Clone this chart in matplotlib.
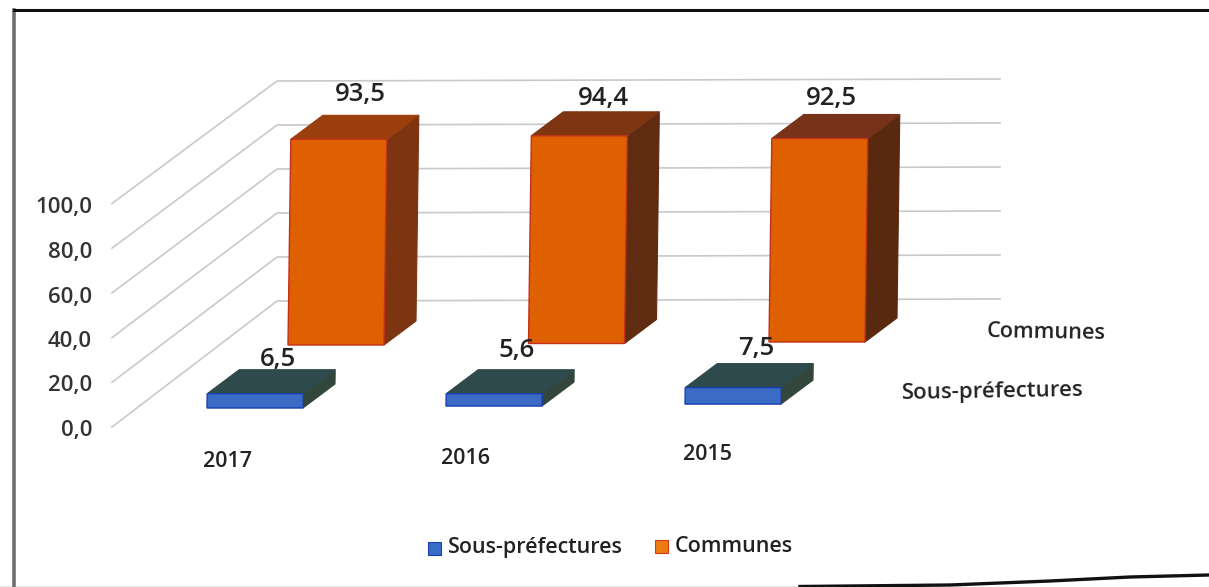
import matplotlib
matplotlib.use("Agg")
import matplotlib.pyplot as plt
from matplotlib.patches import Polygon, Rectangle

plt.rcParams['font.family'] = ['Open Sans', 'DejaVu Sans']

# data
years = ["2017", "2016", "2015"]
sous_prefectures = [6.5, 5.6, 7.5]
communes = [93.5, 94.4, 92.5]
y_ticks = [0, 20, 40, 60, 80, 100]
y_tick_labels = ["0,0", "20,0", "40,0", "60,0", "80,0", "100,0"]
series_names = ["Sous-préfectures", "Communes"]

# layout of the fake 3d box, in pixels of the scan
PX_PER_UNIT = 2.2
BAR_W = 96
DEPTH = (32, -24)
LEAN = 0.03
ROW_X = {"sous": 207, "comm": 288}
ROW_Y = {"sous": 408, "comm": 345}
STEP_X = 240.5
TILT = 1.5

fig = plt.figure(figsize=(12.09, 5.87), dpi=100)
ax = fig.add_axes([0, 0, 1, 1])
ax.set_xlim(0, 1209)
ax.set_ylim(587, 0)
ax.axis("off")

# scan border
ax.plot([14, 14], [10, 587], color="#6e6e6e", lw=2.6)
ax.plot([14, 1209], [10, 10], color="#111111", lw=2.2)
ax.plot([0, 600, 800], [586.5, 586.5, 586.5], color="#8a8a70", lw=1.0)
ax.plot([800, 950, 1050, 1130, 1209], [586.5, 585, 581, 577, 575], color="#111111", lw=2.4)

# grid walls
for v in y_ticks:
    y_front = 427 - 2.235 * v
    y_back = 301 - 2.2 * v
    ax.plot([112, 277, 1000], [y_front, y_back, y_back - 2], color="#c9c9c9", lw=1.2, zorder=1)


def box(x0, y0, value, front, top, side, edge):
    h = value * PX_PER_UNIT
    lean = value * LEAN
    dx, dy = DEPTH
    fl, fr = x0, x0 + BAR_W
    tl, tr = x0 + lean, x0 + BAR_W + lean
    ty = y0 - h
    ax.add_patch(Polygon([(tr, ty), (tr + dx, ty + dy), (fr + dx, y0 + dy), (fr, y0)],
                         facecolor=side, edgecolor=side, lw=0.8, zorder=3))
    ax.add_patch(Polygon([(tl, ty), (tl + dx, ty + dy), (tr + dx, ty + dy), (tr, ty)],
                         facecolor=top, edgecolor=top, lw=0.8, zorder=3))
    ax.add_patch(Polygon([(fl, y0), (tl, ty), (tr, ty), (fr, y0)],
                         facecolor=front, edgecolor=edge, lw=1.0, zorder=4))
    return ty


comm_sides = ["#7d3410", "#5f2c12", "#58290f"]
comm_tops = ["#9a3f0c", "#7d3512", "#76331a"]
comm_label_dx = [72, 75, 62]
comm_label_dy = [-45, -37, -40]
sous_label_dy = [-34, -43, -39]
for i, year in enumerate(years):
    x_c = ROW_X["comm"] + i * STEP_X
    y_c = ROW_Y["comm"] - i * TILT
    ty = box(x_c, y_c, communes[i], "#de6000", comm_tops[i], comm_sides[i], "#c4301a")
    ax.text(x_c + comm_label_dx[i], ty + comm_label_dy[i],
            f"{communes[i]:.1f}".replace(".", ","), fontsize=18.5, weight="semibold",
            color="#222222", ha="center", va="center", zorder=6)

    x_s = ROW_X["sous"] + i * STEP_X - (i * 1.5)
    y_s = ROW_Y["sous"] - i * TILT * 1.3
    ty = box(x_s, y_s, sous_prefectures[i], "#3a6cc6", "#2f4a4c", "#33463c", "#1b3fae")
    ax.text(x_s + 71, ty + sous_label_dy[i],
            f"{sous_prefectures[i]:.1f}".replace(".", ","), fontsize=18.5, weight="semibold",
            color="#222222", ha="center", va="center", zorder=6)

    ax.text(228 + i * 239.5 - (2 if i == 1 else 0), 461.5 - i * 3.5, year, fontsize=15.5,
            weight="semibold", color="#222222", ha="center", va="center", zorder=6)

for v, lab in zip(y_ticks, y_tick_labels):
    ax.text(92, 430.5 - 2.225 * v, lab, fontsize=16, weight="semibold", color="#333333",
            ha="right", va="center")

# series names on the depth axis
ax.text(1046, 333, series_names[1], fontsize=15.6, weight="semibold", color="#222222",
        ha="center", va="center", rotation=-1)
ax.text(993, 392, series_names[0], fontsize=16, weight="semibold", color="#222222",
        ha="center", va="center", rotation=1)

# legend
ax.add_patch(Rectangle((428, 542), 13, 13, facecolor="#3a6cc6", edgecolor="#1b3fae", lw=0.8))
ax.text(448, 548, series_names[0], fontsize=15.4, weight="semibold", color="#222222", va="center")
ax.add_patch(Rectangle((655, 540), 13, 13, facecolor="#ee7a12", edgecolor="#d43a1a", lw=0.8))
ax.text(675, 546, series_names[1], fontsize=15.5, weight="semibold", color="#222222", va="center")

fig.savefig("out.png", dpi=100, facecolor="white")
